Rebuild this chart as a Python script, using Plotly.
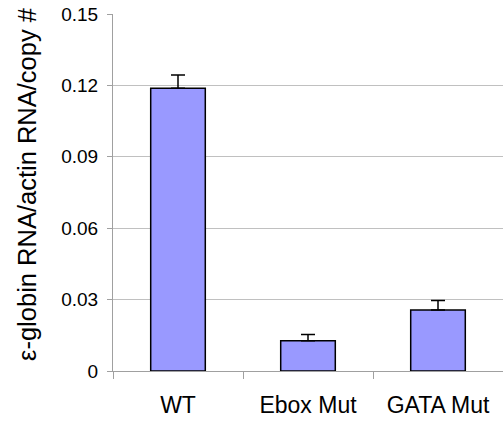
import plotly.graph_objects as go

categories = ["WT", "Ebox Mut", "GATA Mut"]
values = [0.1188, 0.0127, 0.0256]
errors = [0.0056, 0.0026, 0.0040]
y_title = "ε-globin RNA/actin RNA/copy #"

fig = go.Figure()
fig.add_trace(go.Bar(
    x=categories, y=values, width=0.42,
    marker=dict(color="#9999FF", line=dict(color="black", width=1.5)),
    error_y=dict(type="data", symmetric=False, array=errors,
                 arrayminus=[0] * len(errors),
                 color="black", thickness=1.5, width=7),
))

fig.update_layout(
    width=503, height=424,
    margin=dict(l=113, r=0, t=14, b=53),
    plot_bgcolor="white", paper_bgcolor="white",
    showlegend=False,
    font=dict(family="Liberation Sans, Arial, sans-serif", color="black"),
    xaxis=dict(
        showline=True, linecolor="#a0a0a0", linewidth=1,
        ticks="outside", tickson="boundaries", ticklen=7, tickcolor="#a0a0a0",
        tickfont=dict(size=23), ticklabelstandoff=13,
        showgrid=False,
    ),
    yaxis=dict(
        range=[0, 0.15], dtick=0.03, tick0=0,
        showline=True, linecolor="#a0a0a0", linewidth=1,
        ticks="outside", ticklen=5, tickcolor="#a0a0a0",
        showgrid=True, gridcolor="#c0c0c0", gridwidth=1,
        tickfont=dict(size=19), ticklabelstandoff=5,
        zeroline=False,
    ),
    annotations=[dict(
        text=y_title, xref="paper", yref="paper", x=0, y=0.524,
        xshift=-86, xanchor="center", yanchor="middle", textangle=-90,
        showarrow=False, font=dict(size=25.5, color="black"),
    )],
)

fig.write_html("out.html", config={"displayModeBar": False},
               post_script="document.body.style.margin='0';")
